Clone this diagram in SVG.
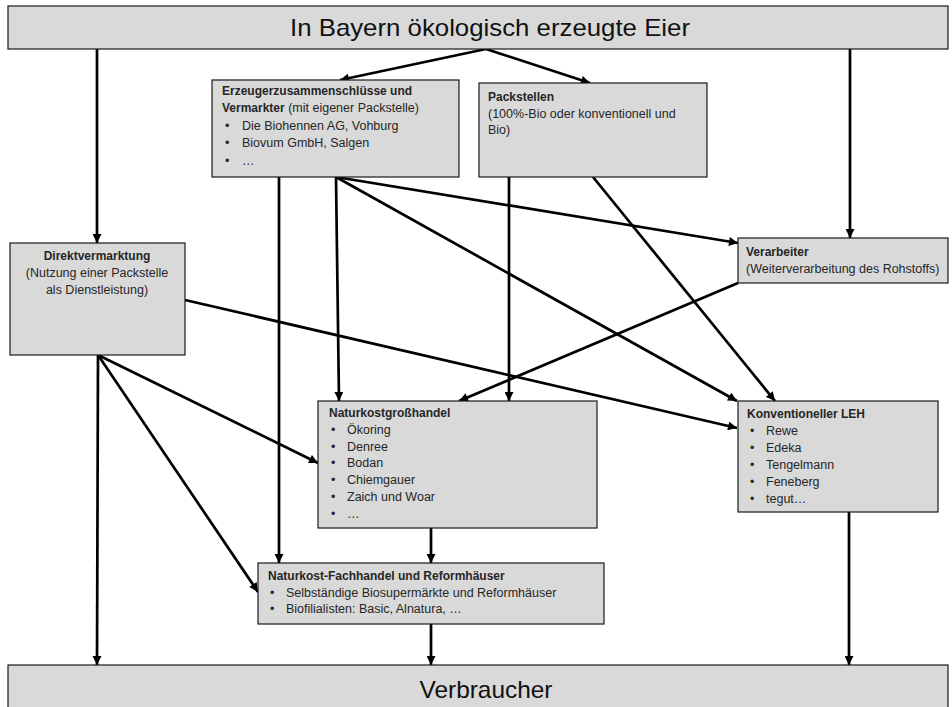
<svg xmlns="http://www.w3.org/2000/svg" width="952" height="707" viewBox="0 0 952 707">
<style>
.box{fill:#d9d9d9;stroke:#1a1a1a;stroke-width:1.2}
.t{font-family:"Liberation Sans",Arial,sans-serif;font-size:12.5px;fill:#262626}
.b{font-family:"Liberation Sans",Arial,sans-serif;font-size:12px;font-weight:bold;fill:#262626}
.big{font-family:"Liberation Sans",Arial,sans-serif;font-size:24px;fill:#111}
.c{fill:none;stroke:#000;stroke-width:2.7;marker-end:url(#ah)}
</style>
<defs>
<marker id="ah" viewBox="0 0 10 10" refX="10" refY="5" markerWidth="10" markerHeight="9" markerUnits="userSpaceOnUse" orient="auto"><path d="M0,0 L10,5 L0,10 z" fill="#000"/></marker>
</defs>
<rect x="0" y="0" width="952" height="707" fill="#fff"/>

<g id="connectors">
<path class="c" d="M97,49 L97,243"/>
<path class="c" d="M486,49 L340,80"/>
<path class="c" d="M486,49 L590,83"/>
<path class="c" d="M850,49 L850,238"/>
<path class="c" d="M279,177 L279,563"/>
<path class="c" d="M336,177 L339,401"/>
<path class="c" d="M336,177 L738,243"/>
<path class="c" d="M336,177 L737,401"/>
<path class="c" d="M509,177 L509,401"/>
<path class="c" d="M593,177 L775,401"/>
<path class="c" d="M738,283 L459,401"/>
<path class="c" d="M185,300 L737,428"/>
<path class="c" d="M98,355 L97,665"/>
<path class="c" d="M98,355 L318,463"/>
<path class="c" d="M98,355 L258,592"/>
<path class="c" d="M431,528 L431,563"/>
<path class="c" d="M431,624 L431,665"/>
<path class="c" d="M849,512 L849,665"/>
</g>

<g id="title">
<rect class="box" x="8" y="6" width="940" height="43"/>
<text class="big" x="490" y="36" text-anchor="middle" textLength="400" lengthAdjust="spacingAndGlyphs">In Bayern ökologisch erzeugte Eier</text>
</g>

<g id="erzeuger">
<rect class="box" x="212" y="80" width="247" height="97"/>
<text class="b" x="222" y="95">Erzeugerzusammenschlüsse und</text>
<text x="222" y="112"><tspan class="b">Vermarkter</tspan><tspan class="t"> (mit eigener Packstelle)</tspan></text>
<text class="t" x="225" y="130">•</text><text class="t" x="242" y="130">Die Biohennen AG, Vohburg</text>
<text class="t" x="225" y="147">•</text><text class="t" x="242" y="147">Biovum GmbH, Salgen</text>
<text class="t" x="225" y="165">•</text><text class="t" x="242" y="165">…</text>
</g>

<g id="packstellen">
<rect class="box" x="479" y="83" width="228" height="94"/>
<text class="b" x="488" y="101">Packstellen</text>
<text class="t" x="488" y="118">(100%-Bio oder konventionell und</text>
<text class="t" x="488" y="134">Bio)</text>
</g>

<g id="direkt">
<rect class="box" x="10" y="243" width="175" height="112"/>
<text class="b" x="97" y="260" text-anchor="middle">Direktvermarktung</text>
<text class="t" x="97" y="277" text-anchor="middle">(Nutzung einer Packstelle</text>
<text class="t" x="97" y="294" text-anchor="middle">als Dienstleistung)</text>
</g>

<g id="verarbeiter">
<rect class="box" x="738" y="238" width="210" height="45"/>
<text class="b" x="746" y="256">Verarbeiter</text>
<text class="t" x="746" y="273">(Weiterverarbeitung des Rohstoffs)</text>
</g>

<g id="grosshandel">
<rect class="box" x="318" y="401" width="279" height="127"/>
<text class="b" x="329" y="417">Naturkostgroßhandel</text>
<text class="t" x="331" y="434">•</text><text class="t" x="347" y="434">Ökoring</text>
<text class="t" x="331" y="451">•</text><text class="t" x="347" y="451">Denree</text>
<text class="t" x="331" y="467">•</text><text class="t" x="347" y="467">Bodan</text>
<text class="t" x="331" y="484">•</text><text class="t" x="347" y="484">Chiemgauer</text>
<text class="t" x="331" y="501">•</text><text class="t" x="347" y="501">Zaich und Woar</text>
<text class="t" x="331" y="518">•</text><text class="t" x="347" y="518">…</text>
</g>

<g id="leh">
<rect class="box" x="738" y="401" width="200" height="111"/>
<text class="b" x="747" y="418">Konventioneller LEH</text>
<text class="t" x="750" y="435">•</text><text class="t" x="766" y="435">Rewe</text>
<text class="t" x="750" y="452">•</text><text class="t" x="766" y="452">Edeka</text>
<text class="t" x="750" y="469">•</text><text class="t" x="766" y="469">Tengelmann</text>
<text class="t" x="750" y="486">•</text><text class="t" x="766" y="486">Feneberg</text>
<text class="t" x="750" y="503">•</text><text class="t" x="766" y="503">tegut…</text>
</g>

<g id="fachhandel">
<rect class="box" x="258" y="563" width="346" height="61"/>
<text class="b" x="268" y="580">Naturkost-Fachhandel und Reformhäuser</text>
<text class="t" x="270" y="597">•</text><text class="t" x="286" y="597">Selbständige Biosupermärkte und Reformhäuser</text>
<text class="t" x="270" y="613">•</text><text class="t" x="286" y="613">Biofilialisten: Basic, Alnatura, …</text>
</g>

<g id="verbraucher">
<rect class="box" x="8" y="665" width="940" height="48"/>
<text class="big" x="486" y="698" text-anchor="middle" textLength="133" lengthAdjust="spacingAndGlyphs">Verbraucher</text>
</g>
</svg>
